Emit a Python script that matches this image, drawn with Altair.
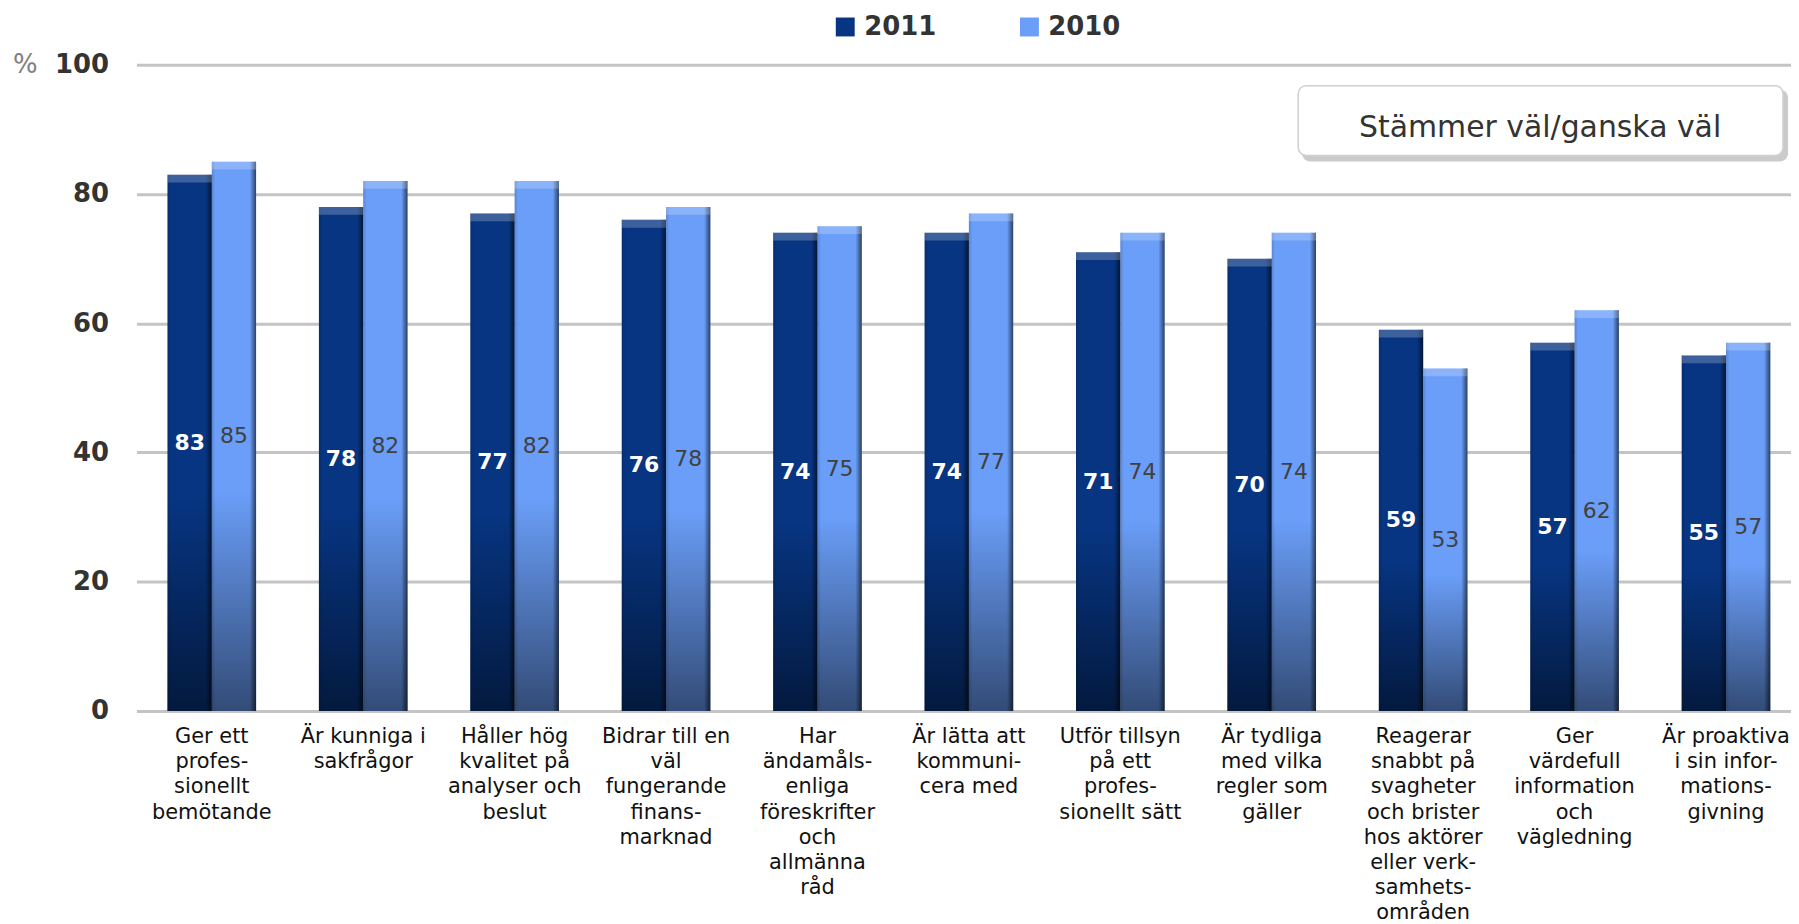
import altair as alt
import pandas as pd

categories = [
    "Ger ett|profes-|sionellt|bemötande",
    "Är kunniga i|sakfrågor",
    "Håller hög|kvalitet på|analyser och|beslut",
    "Bidrar till en|väl|fungerande|finans-|marknad",
    "Har|ändamåls-|enliga|föreskrifter|och|allmänna|råd",
    "Är lätta att|kommuni-|cera med",
    "Utför tillsyn|på ett|profes-|sionellt sätt",
    "Är tydliga|med vilka|regler som|gäller",
    "Reagerar|snabbt på|svagheter|och brister|hos aktörer|eller verk-|samhets-|områden",
    "Ger|värdefull|information|och|vägledning",
    "Är proaktiva|i sin infor-|mations-|givning",
]
values_2011 = [83, 78, 77, 76, 74, 74, 71, 70, 59, 57, 55]
values_2010 = [85, 82, 82, 78, 75, 77, 74, 74, 53, 62, 57]
series = ["2011", "2010"]
y_ticks = [0, 20, 40, 60, 80, 100]
annotation = ["Stämmer väl/ganska väl"]

rows = []
for c, a, b in zip(categories, values_2011, values_2010):
    rows.append({"cat": c, "year": "2011", "value": a})
    rows.append({"cat": c, "year": "2010", "value": b})
df = pd.DataFrame(rows)

FONT = "DejaVu Sans"

x = alt.X(
    "cat:N",
    sort=categories,
    scale=alt.Scale(paddingInner=0.415, paddingOuter=0.171, align=0.6),
    axis=alt.Axis(
        title=None, labelAngle=0, labelExpr="split(datum.label, '|')",
        labelFont=FONT, labelFontSize=21, labelColor="#111111",
        labelLineHeight=25.2, labelPadding=15, ticks=False, domain=False,
        labelLimit=0, labelOverlap=False, labelBaseline="top",
    ),
)
xo = alt.XOffset("year:N", sort=series, scale=alt.Scale(domain=series, paddingInner=0, paddingOuter=0))
y = alt.Y(
    "value:Q",
    scale=alt.Scale(domain=[0, 100], nice=False),
    axis=alt.Axis(
        values=y_ticks, title="%", titleAngle=0, titleX=-112, titleY=0,
        titleAlign="center", titleBaseline="middle", titleFont=FONT,
        titleFontSize=26, titleFontWeight="normal", titleColor="#808080",
        grid=True, gridColor="#c4c4c4", gridWidth=3, ticks=False, domain=False,
        labelFont=FONT, labelFontWeight="bold", labelFontSize=26,
        labelColor="#333333", labelPadding=28,
    ),
)

bars = alt.Chart(df).mark_bar(strokeWidth=0).encode(
    x=x, xOffset=xo, y=y,
    color=alt.Color(
        "year:N", sort=series,
        scale=alt.Scale(domain=series, range=["#073582", "#6a9ef8"]),
        legend=alt.Legend(
            orient="none", legendX=699, legendY=-51, direction="horizontal",
            title=None, symbolType="square", symbolSize=361, symbolStrokeWidth=0,
            labelFont=FONT, labelFontWeight="bold", labelFontSize=26,
            labelColor="#333333", columnPadding=80, labelOffset=6,
        ),
    ),
)

shade = alt.Chart(df).mark_bar(
    fill=alt.LinearGradient(
        gradient="linear", x1=0, x2=0, y1=0, y2=1,
        stops=[
            alt.GradientStop(color="rgba(0,0,0,0)", offset=0),
            alt.GradientStop(color="rgba(0,0,0,0)", offset=0.6),
            alt.GradientStop(color="rgba(0,0,0,0.52)", offset=1),
        ],
    ),
    strokeWidth=0,
).encode(x=x, xOffset=xo, y=y)

edge = alt.Chart(df).mark_bar(
    fill=alt.LinearGradient(
        gradient="linear", x1=0, x2=1, y1=0, y2=0,
        stops=[
            alt.GradientStop(color="rgba(0,0,0,0.15)", offset=0),
            alt.GradientStop(color="rgba(0,0,0,0)", offset=0.08),
            alt.GradientStop(color="rgba(0,0,0,0)", offset=0.86),
            alt.GradientStop(color="rgba(0,0,0,0.6)", offset=1),
        ],
    ),
    strokeWidth=0,
).encode(x=x, xOffset=xo, y=y)

cap = alt.Chart(df).transform_calculate(top2="datum.value - 1.2").mark_bar(
    fill="#ffffff", opacity=0.22, strokeWidth=0
).encode(x=x, xOffset=xo, y=y, y2="top2:Q")

lab_2011 = alt.Chart(df).transform_filter("datum.year == '2011'").transform_calculate(
    mid="datum.value / 2"
).mark_text(font=FONT, fontSize=22, fontWeight="bold", color="#ffffff", baseline="middle").encode(
    x=x, xOffset=xo, y=alt.Y("mid:Q"), text="value:Q"
)
lab_2010 = alt.Chart(df).transform_filter("datum.year == '2010'").transform_calculate(
    mid="datum.value / 2"
).mark_text(font=FONT, fontSize=22, color="#404040", baseline="middle").encode(
    x=x, xOffset=xo, y=alt.Y("mid:Q"), text="value:Q"
)

ann_df = pd.DataFrame({"text": annotation})
shadow = alt.Chart(ann_df).mark_rect(cornerRadius=8, fill="#8c8c8c", opacity=0.45).encode(
    x=alt.value(1171), x2=alt.value(1659), y=alt.value(25), y2=alt.value(97)
)
box = alt.Chart(ann_df).mark_rect(cornerRadius=8, fill="#ffffff", stroke="#cfcfcf", strokeWidth=1.5).encode(
    x=alt.value(1167), x2=alt.value(1654), y=alt.value(21), y2=alt.value(91)
)
box_text = alt.Chart(ann_df).mark_text(font=FONT, fontSize=30, color="#333333").encode(
    x=alt.value(1410), y=alt.value(64), text="text:N"
)

chart = alt.layer(
    bars, shade, edge, cap, lab_2011, lab_2010, shadow, box, box_text
).properties(
    width=1662, height=649,
    autosize=alt.AutoSizeParams(type="none"),
    padding={"left": 129, "top": 55, "right": 0, "bottom": 216},
).configure_view(stroke=None)

chart.save("out.html", embed_options={"renderer": "svg", "actions": False})
